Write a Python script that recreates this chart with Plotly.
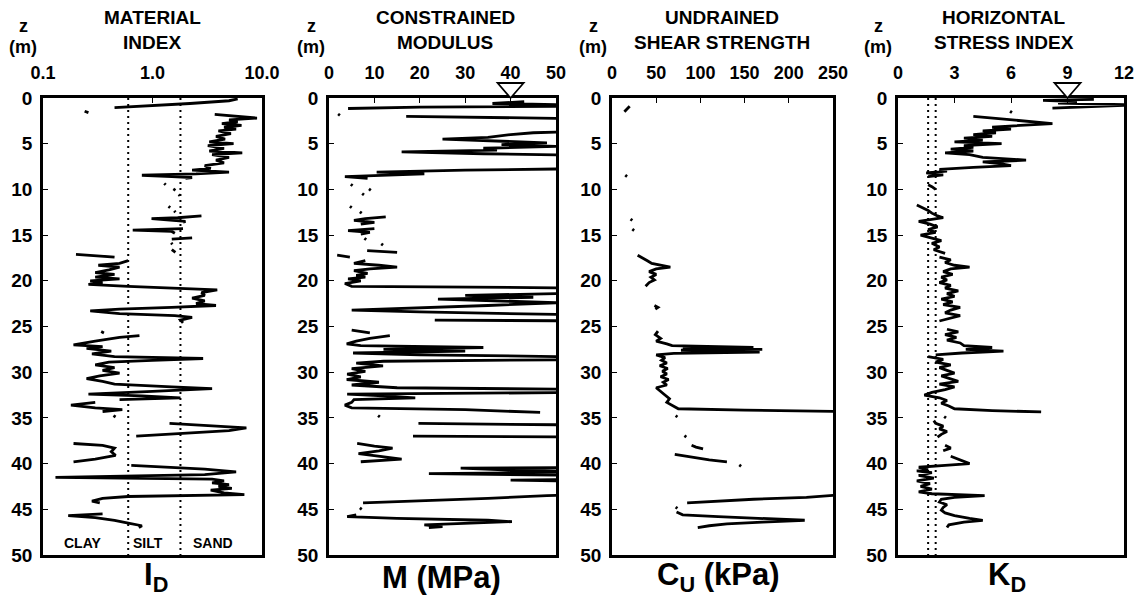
import plotly.graph_objects as go

W, H = 1141, 598

# ---------------- DATA ----------------
DEPTH_TICKS = [0, 5, 10, 15, 20, 25, 30, 35, 40, 45, 50]

# Material index I_D : segments of (depth z [m], value)
ID_SEGMENTS = [
    [(0.1, 6.0), (0.3, 5.0), (0.6, 2.2), (0.9, 0.8), (1.05, 0.45)],
    [(1.45, 0.24), (1.6, 0.26)],
    [(1.8, 3.7), (2.0, 5.5), (2.2, 9.0), (2.4, 5.0), (2.6, 6.0), (2.8, 4.3), (3.0, 6.5), (3.2, 4.5),
     (3.4, 5.8), (3.6, 4.0), (3.9, 5.2), (4.2, 3.8), (4.5, 4.6), (4.8, 3.3), (5.0, 5.5), (5.2, 3.2),
     (5.5, 4.5), (5.8, 3.3), (6.0, 6.6), (6.2, 3.5), (6.5, 5.0), (6.8, 3.8), (7.1, 4.5), (7.4, 3.0),
     (7.7, 3.4), (7.9, 2.3), (8.1, 5.0), (8.3, 2.5), (8.45, 0.8), (8.6, 1.5), (8.7, 2.3), (8.8, 2.0)],
    [(9.35, 1.28), (9.5, 1.32)],
    [(9.95, 1.55), (10.1, 1.62)],
    [(10.55, 1.74), (10.7, 1.78)],
    [(11.85, 1.40), (12.0, 1.45)],
    [(12.35, 1.58), (12.5, 1.62)],
    [(12.9, 2.8), (13.1, 1.7), (13.2, 0.98), (13.35, 1.6), (13.5, 2.0), (13.6, 1.9)],
    [(14.3, 1.9), (14.45, 0.66), (14.6, 1.5), (14.8, 1.6)],
    [(15.3, 2.3), (15.45, 1.5)],
    [(15.85, 1.48), (16.0, 1.52)],
    [(16.6, 1.5), (16.9, 1.62)],
    [(17.1, 0.2), (17.4, 0.45)],
    [(17.8, 0.6), (18.1, 0.5), (18.3, 0.32), (18.5, 0.5), (18.8, 0.4), (19.1, 0.3), (19.3, 0.45),
     (19.6, 0.3), (19.8, 0.5), (20.0, 0.27), (20.2, 0.35), (20.4, 0.26), (20.6, 0.6), (20.8, 1.8),
     (21.0, 3.9), (21.3, 2.8), (21.6, 3.0), (21.9, 2.3), (22.2, 3.0), (22.5, 2.5), (22.7, 3.8),
     (22.9, 1.5), (23.1, 0.5), (23.3, 0.27), (23.6, 0.5), (23.8, 1.6), (24.0, 2.3), (24.3, 1.8),
     (24.6, 1.9)],
    [(25.55, 0.34), (25.7, 0.36)],
    [(26.0, 0.76), (26.2, 0.5), (26.6, 0.3), (27.0, 0.19), (27.2, 0.35), (27.4, 0.25), (27.7, 0.42),
     (28.0, 0.28), (28.3, 0.45), (28.5, 2.9), (28.7, 1.0), (28.9, 0.4), (29.2, 0.3), (29.5, 0.45),
     (29.8, 0.35), (30.1, 0.5), (30.4, 0.33), (30.7, 0.25), (31.0, 0.35), (31.3, 0.45), (31.6, 1.5),
     (31.8, 3.5), (32.1, 1.0), (32.4, 0.26), (32.6, 0.8), (32.8, 1.8), (33.0, 0.5)],
    [(33.3, 0.3), (33.6, 0.18), (33.9, 0.3), (34.1, 0.53), (34.3, 0.35)],
    [(34.75, 0.44), (34.9, 0.46)],
    [(35.6, 1.43), (35.9, 4.0), (36.1, 7.2), (36.4, 5.0), (36.7, 2.0), (37.0, 0.71)],
    [(37.8, 0.19), (38.0, 0.35), (38.3, 0.45), (38.7, 0.42), (39.1, 0.46), (39.5, 0.3), (39.8, 0.19)],
    [(40.2, 0.64), (40.6, 3.0), (40.9, 5.8), (41.2, 3.0), (41.5, 0.13), (41.7, 3.5), (41.9, 4.5),
     (42.1, 3.5), (42.3, 5.0), (42.5, 4.0), (42.7, 5.3), (42.9, 3.4), (43.2, 4.5), (43.4, 6.9),
     (43.6, 0.6), (43.8, 0.35), (44.1, 0.28), (44.3, 0.33)],
    [(45.5, 0.35), (45.7, 0.17), (45.9, 0.3), (46.2, 0.45), (46.5, 0.6), (46.8, 0.8), (47.0, 0.75)],
]
ID_BOUNDARIES = [0.6, 1.8]           # clay/silt and silt/sand limits
ID_ZONES = ["CLAY", "SILT", "SAND"]

# Constrained modulus M [MPa]
M_SEGMENTS = [
    [(0.4, 43), (0.6, 36), (0.8, 60), (0.9, 52), (1.0, 20), (1.15, 4.2)],
    [(1.75, 2.0), (1.9, 2.4)],
    [(2.0, 17), (2.3, 60)],
    [(3.6, 60), (3.8, 45), (4.0, 40), (4.3, 35), (4.5, 25), (4.7, 35), (4.9, 48), (5.1, 38), (5.3, 50),
     (5.5, 34), (5.7, 37), (5.9, 16), (6.1, 34), (6.3, 60), (7.7, 60), (7.9, 30), (8.1, 10.5),
     (8.3, 21), (8.45, 12), (8.6, 3.5), (8.8, 8.5)],
    [(9.45, 4.8), (9.6, 5.2)],
    [(9.95, 8.8), (10.1, 9.2)],
    [(10.45, 7.3), (10.6, 7.7)],
    [(11.85, 4.6), (12.0, 5.0)],
    [(12.45, 6.8), (12.6, 7.2)],
    [(13.0, 12.5), (13.2, 8), (13.4, 5.5), (13.6, 10), (13.8, 7)],
    [(14.3, 10), (14.5, 4.2), (14.7, 9), (14.9, 7)],
    [(15.35, 7.8), (15.5, 8.2)],
    [(15.95, 11.5), (16.1, 11.9)],
    [(16.7, 8.4), (16.9, 15)],
    [(17.2, 1.8), (17.4, 4.6)],
    [(17.8, 8), (18.1, 5.5), (18.3, 11), (18.5, 15), (18.7, 9), (18.9, 5.5), (19.2, 8.5), (19.4, 6),
     (19.6, 8), (19.8, 4.2), (20.0, 7), (20.3, 3.5), (20.6, 5), (20.8, 60), (21.2, 60), (21.4, 50),
     (21.6, 30), (21.8, 45), (22.0, 24), (22.2, 40), (22.4, 50), (22.7, 35), (23.0, 15), (23.2, 5),
     (23.4, 20), (23.7, 52), (23.9, 60)],
    [(24.3, 23.3), (24.4, 60)],
    [(25.4, 5), (25.7, 9)],
    [(26.0, 13.4), (26.3, 9), (26.6, 6), (26.9, 3.9), (27.1, 7), (27.3, 34), (27.5, 12), (27.7, 30),
     (27.9, 5.3), (28.1, 20), (28.3, 52), (28.6, 60), (28.8, 12), (29.0, 6), (29.3, 11.9), (29.6, 5),
     (29.9, 8), (30.2, 4), (30.5, 7), (30.8, 3.9), (31.1, 11), (31.4, 5), (31.7, 15), (31.9, 60),
     (32.2, 60), (32.4, 4), (32.6, 12), (32.8, 19), (33.0, 5.5), (33.3, 5), (33.6, 3.5), (33.9, 5),
     (34.1, 30), (34.4, 46.5)],
    [(34.75, 10.8), (34.9, 11.2)],
    [(35.6, 19.7), (35.8, 60)],
    [(37.0, 18.5), (37.1, 60)],
    [(37.8, 6.2), (38.1, 10), (38.3, 14), (38.6, 11), (38.9, 6.5), (39.2, 12), (39.5, 16), (39.8, 7)],
    [(40.4, 60), (40.5, 29), (40.7, 40), (40.9, 60), (41.1, 22), (41.3, 60), (41.7, 60), (41.8, 40),
     (41.95, 60)],
    [(43.4, 60), (43.5, 48), (43.8, 35), (44.1, 20), (44.3, 7.5)],
    [(44.85, 6.8), (45.0, 7.2)],
    [(45.6, 6), (45.8, 4), (46.0, 15), (46.2, 35), (46.35, 40.3), (46.5, 30), (46.7, 21), (46.9, 25),
     (47.0, 22)],
]

# Undrained shear strength Cu [kPa]
CU_SEGMENTS = [
    [(0.9, 20), (1.1, 18), (1.3, 15), (1.5, 14)],
    [(8.45, 15), (8.6, 17)],
    [(13.25, 21), (13.4, 23)],
    [(14.35, 23), (14.5, 25)],
    [(17.2, 29), (17.4, 33), (17.8, 40), (18.1, 45), (18.3, 55), (18.5, 66), (18.7, 50), (19.0, 42),
     (19.3, 50), (19.6, 44), (19.9, 48), (20.2, 42), (20.6, 38)],
    [(22.7, 48), (22.9, 52), (23.1, 49)],
    [(25.5, 52), (25.9, 49), (26.3, 55), (26.6, 50), (26.9, 62), (27.1, 68), (27.3, 160), (27.4, 80),
     (27.5, 170), (27.6, 78), (27.8, 167), (27.95, 70), (28.1, 50), (28.4, 60), (28.7, 56), (29.0, 62),
     (29.3, 54), (29.6, 63), (29.9, 57), (30.2, 62), (30.5, 55), (30.8, 64), (31.1, 58), (31.4, 62),
     (31.7, 50), (32.1, 55), (32.5, 60), (32.9, 65), (33.3, 62), (33.7, 70), (34.0, 75), (34.15, 150),
     (34.3, 260)],
    [(34.75, 72), (34.9, 74)],
    [(36.95, 82), (37.1, 84)],
    [(38.0, 90), (38.2, 95), (38.4, 103)],
    [(39.0, 71), (39.3, 90), (39.6, 110), (39.8, 130)],
    [(40.15, 144), (40.3, 146)],
    [(43.4, 260), (43.5, 245), (43.7, 220), (43.9, 160), (44.1, 120), (44.3, 85)],
    [(44.75, 72), (44.9, 74)],
    [(45.3, 73), (45.6, 80), (45.8, 120), (46.0, 180), (46.2, 218), (46.4, 170), (46.6, 130),
     (46.8, 110), (47.0, 97)],
]

# Horizontal stress index K_D
KD_SEGMENTS = [
    [(0.15, 10.4), (0.25, 7.7), (0.4, 9.5), (0.55, 8.5), (0.75, 12.5), (0.9, 11), (1.1, 8.2)],
    [(1.45, 5.95), (1.6, 6.05)],
    [(2.0, 4.0), (2.3, 5.5), (2.6, 7.0), (2.8, 8.2), (3.0, 6.5), (3.2, 5.0), (3.4, 6.0), (3.6, 4.5),
     (3.8, 5.2), (4.0, 4.0), (4.2, 5.0), (4.4, 3.5), (4.6, 4.5), (4.8, 3.0), (5.0, 5.5), (5.2, 3.5),
     (5.4, 4.0), (5.6, 2.8), (5.8, 4.0), (6.0, 2.5), (6.2, 3.8), (6.5, 4.5), (6.8, 6.8), (7.0, 4.5),
     (7.2, 5.5), (7.4, 6.0), (7.6, 4.0), (7.8, 2.2), (8.0, 2.6), (8.2, 1.5), (8.4, 2.4), (8.6, 1.6)],
    [(9.5, 1.6), (9.7, 1.8), (10.0, 2.0)],
    [(11.7, 1.0), (12.0, 1.3), (12.3, 1.6), (12.6, 1.8), (12.9, 2.1), (13.1, 2.4), (13.3, 1.6),
     (13.5, 1.1), (13.8, 1.7), (14.1, 2.1), (14.4, 1.6), (14.7, 2.0), (15.0, 1.2), (15.3, 1.7),
     (15.6, 2.3), (15.9, 1.8), (16.3, 2.2), (16.6, 1.9), (17.0, 2.5)],
    [(17.4, 2.2), (17.7, 2.8), (18.0, 2.5), (18.3, 3.0), (18.5, 3.8), (18.7, 2.8), (19.0, 2.4),
     (19.3, 2.9), (19.6, 2.3), (19.9, 2.6), (20.2, 2.2), (20.5, 2.8), (20.8, 2.5), (21.1, 3.2),
     (21.4, 2.6), (21.7, 3.0), (22.0, 2.3), (22.3, 2.9), (22.6, 2.4), (22.9, 3.3), (23.2, 2.8),
     (23.5, 2.5), (23.8, 3.3), (24.1, 2.7), (24.4, 2.2)],
    [(25.3, 2.6), (25.6, 3.2), (25.9, 2.5), (26.2, 3.1), (26.5, 2.6), (26.8, 3.3), (27.1, 3.5),
     (27.3, 5.0), (27.5, 3.6), (27.7, 5.6), (27.9, 3.4), (28.1, 2.0)],
    [(28.3, 1.6), (28.6, 2.4), (28.9, 2.0), (29.2, 2.8), (29.5, 2.2), (29.8, 2.6), (30.1, 3.0),
     (30.4, 2.3), (30.7, 2.8), (31.0, 3.2), (31.3, 2.2), (31.6, 3.0), (31.9, 2.5), (32.2, 1.8),
     (32.5, 1.4), (32.8, 2.2), (33.1, 2.6), (33.4, 2.3), (33.7, 2.7), (34.0, 3.0), (34.2, 5.0),
     (34.35, 7.6)],
    [(34.85, 2.45), (35.0, 2.55)],
    [(35.3, 1.9), (35.6, 2.0), (35.9, 2.4), (36.2, 2.2), (36.5, 2.6), (36.8, 2.3), (37.1, 2.1)],
    [(38.0, 2.5), (38.3, 2.8), (38.6, 2.4)],
    [(39.2, 2.8), (39.6, 3.3), (40.0, 3.8), (40.2, 2.5), (40.4, 1.1), (40.6, 1.6), (40.8, 1.0),
     (41.0, 1.8), (41.3, 1.1), (41.6, 1.9), (41.9, 1.0), (42.2, 1.7), (42.5, 1.2), (42.8, 1.8),
     (43.1, 1.1), (43.3, 1.8), (43.5, 4.6), (43.7, 3.0), (43.9, 2.3), (44.2, 2.2), (44.5, 2.6),
     (44.8, 2.4), (45.1, 2.3), (45.4, 2.5), (45.7, 3.0), (46.0, 3.8), (46.2, 4.5), (46.4, 3.5),
     (46.7, 2.7), (47.0, 2.6)],
]
KD_REFERENCE = [1.6, 2.0]

# Water table markers (value on x axis)
WATER_TABLE_M = 40
WATER_TABLE_KD = 9

# Axis tick values / labels
ID_TICKS = [0.1, 1, 10]
ID_TICKTEXT = ["0.1", "1.0", "10.0"]
M_TICKS = [0, 10, 20, 30, 40, 50]
CU_TICKS = [0, 50, 100, 150, 200, 250]
KD_TICKS = [0, 3, 6, 9, 12]

TITLES = [("MATERIAL", "INDEX"), ("CONSTRAINED", "MODULUS"),
          ("UNDRAINED", "SHEAR STRENGTH"), ("HORIZONTAL", "STRESS INDEX")]
BOTTOM_LABELS = ["I<sub>D</sub>", "M (MPa)", "C<sub>U</sub> (kPa)", "K<sub>D</sub>"]

# ---------------- LAYOUT HELPERS ----------------
FONT = "Liberation Sans, Arial, Helvetica, sans-serif"


def px_x(p):
    return p / W


def px_y(p):
    return 1 - p / H


def flatten(segments):
    zs, vs = [], []
    for seg in segments:
        for z, v in seg:
            zs.append(z)
            vs.append(v)
        zs.append(None)
        vs.append(None)
    return zs, vs


# panel pixel boxes (left, right)
PANELS = [(43, 262), (329, 556), (612, 833), (898, 1124)]
X_RANGES = [(-1, 1), (0, 50), (0, 250), (0, 12)]
TOP_PX, BOT_PX = 98, 555

fig = go.Figure()

LINE = dict(color="black", width=2.8)

series = [ID_SEGMENTS, M_SEGMENTS, CU_SEGMENTS, KD_SEGMENTS]
for i, segs in enumerate(series):
    zs, vs = flatten(segs)
    sx = "x" if i == 0 else f"x{i+1}"
    sy = "y" if i == 0 else f"y{i+1}"
    fig.add_trace(go.Scatter(x=vs, y=zs, mode="lines", line=LINE, xaxis=sx, yaxis=sy,
                             connectgaps=False, hoverinfo="skip"))

# dotted reference lines
for v in ID_BOUNDARIES:
    fig.add_trace(go.Scatter(x=[v, v], y=[0, 50], mode="lines",
                             line=dict(color="black", width=2, dash="2px,4px"),
                             xaxis="x", yaxis="y", hoverinfo="skip"))
for v in KD_REFERENCE:
    fig.add_trace(go.Scatter(x=[v, v], y=[0, 50], mode="lines",
                             line=dict(color="black", width=2, dash="2px,4px"),
                             xaxis="x4", yaxis="y4", hoverinfo="skip"))

ydom = [px_y(BOT_PX), px_y(TOP_PX)]
tickfont_x = dict(family=FONT, size=18, color="black", weight="bold")
tickfont_y = dict(family=FONT, size=19, color="black", weight="bold")

xaxis_specs = [
    dict(type="log", tickvals=ID_TICKS, ticktext=ID_TICKTEXT),
    dict(tickvals=M_TICKS),
    dict(tickvals=CU_TICKS),
    dict(tickvals=KD_TICKS),
]

layout = dict(
    width=W, height=H, margin=dict(l=0, r=0, t=0, b=0, pad=0, autoexpand=False),
    paper_bgcolor="white", plot_bgcolor="white", showlegend=False,
)
for i, (l, r) in enumerate(PANELS):
    xs = "xaxis" if i == 0 else f"xaxis{i+1}"
    ys = "yaxis" if i == 0 else f"yaxis{i+1}"
    yref = "y" if i == 0 else f"y{i+1}"
    xref = "x" if i == 0 else f"x{i+1}"
    spec = xaxis_specs[i]
    layout[xs] = dict(domain=[px_x(l), px_x(r)], anchor=yref, side="top",
                      range=list(X_RANGES[i]), automargin=False,
                      showline=True, mirror=True, linecolor="black", linewidth=2.8,
                      showgrid=False, zeroline=False, ticks="inside", ticklen=5,
                      tickwidth=1, tickcolor="black", tickfont=tickfont_x,
                      ticklabelstandoff=9, tickmode="array", **spec)
    layout[ys] = dict(domain=ydom, anchor=xref, range=[50, 0], tickmode="array",
                      automargin=False,
                      tickvals=DEPTH_TICKS, showline=True, mirror=True, linecolor="black",
                      linewidth=2.8, showgrid=False, zeroline=False, ticks="inside",
                      ticklen=5, tickwidth=1, tickcolor="black", tickfont=tickfont_y,
                      ticklabelstandoff=4)

fig.update_layout(**layout)

# water table triangles (open, apex resting on the ground surface)
TRI_HALF_W_PX, TRI_H_PX = 13, 15
shapes = []
for xv, panel in [(WATER_TABLE_M, 1), (WATER_TABLE_KD, 3)]:
    lo, hi = X_RANGES[panel]
    l, r = PANELS[panel]
    half_w = TRI_HALF_W_PX * (hi - lo) / (r - l)
    y_top = px_y(TOP_PX - TRI_H_PX)
    y_apex = px_y(TOP_PX)
    xr = f"x{panel+1}"
    shapes.append(dict(type="path", xref=xr, yref="paper",
                       path=f"M {xv - half_w},{y_top} L {xv + half_w},{y_top} L {xv},{y_apex} Z",
                       fillcolor="white", line=dict(color="black", width=1.8), layer="above"))
fig.update_layout(shapes=shapes)

# ---------------- TEXT ----------------
ann = []


def add_text(text, x, y, size, xanchor="center"):
    ann.append(dict(text=text, x=px_x(x), y=px_y(y), xref="paper", yref="paper",
                    showarrow=False, xanchor=xanchor, yanchor="middle",
                    font=dict(family=FONT, size=size, color="black", weight="bold")))


title_x = [152, 445, 722, 1004]
for (t1, t2), cx in zip(TITLES, title_x):
    add_text(t1, cx, 18, 19)
    add_text(t2, cx, 43, 19)

zlab_x = [23, 311, 593, 878]
for cx in zlab_x:
    add_text("z", cx, 26, 18)
    add_text("(m)", cx, 47, 18)

bottom_x = [156, 441, 718, 1007]
for lab, cx in zip(BOTTOM_LABELS, bottom_x):
    add_text(lab, cx, 577, 31)

for lab, cx in zip(ID_ZONES, [82, 148, 213]):
    add_text(lab, cx, 543, 14)

fig.update_layout(annotations=ann)

fig.write_html("out.html")
